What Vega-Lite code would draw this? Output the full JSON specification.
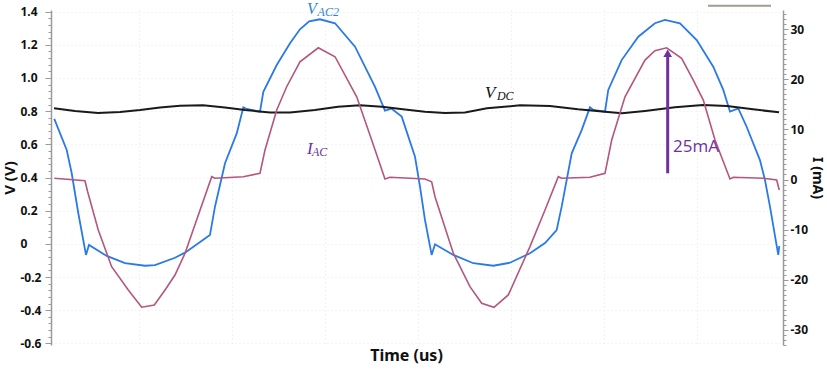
{
  "$schema": "https://vega.github.io/schema/vega-lite/v6.json",
  "autosize": "none",
  "padding": {"left": 51, "right": 44, "top": 10, "bottom": 27},
  "width": 732,
  "height": 335,
  "background": "white",
  "config": {
    "view": {"stroke": null},
    "axis": {"labelFont": "Noto Sans", "labelFontWeight": "bold", "titleFont": "Noto Sans", "titleFontWeight": "bold", "labelColor": "#111111", "titleColor": "#111111"}
  },
  "datasets": {
    "vac": [
      {"t":0.89,"v":0.753},{"t":2.23,"v":0.566},{"t":2.76,"v":0.427},{"t":3.47,"v":0.186},{"t":4.30,"v":-0.067},{"t":4.62,"v":-0.007},{"t":6.53,"v":-0.073},{"t":8.49,"v":-0.116},{"t":10.65,"v":-0.132},{"t":11.72,"v":-0.128},{"t":13.87,"v":-0.084},{"t":14.95,"v":-0.053},{"t":17.63,"v":0.053},{"t":18.17,"v":0.224},{"t":19.25,"v":0.486},{"t":20.51,"v":0.666},{"t":21.22,"v":0.823},{"t":21.58,"v":0.813},{"t":23.01,"v":0.797},{"t":23.37,"v":0.917},{"t":24.81,"v":1.078},{"t":26.24,"v":1.209},{"t":27.31,"v":1.294},{"t":28.3,"v":1.342},{"t":29.46,"v":1.354},{"t":31.08,"v":1.330},{"t":33.23,"v":1.189},{"t":35.38,"v":0.947},{"t":36.45,"v":0.803},{"t":37.17,"v":0.815},{"t":38.25,"v":0.767},{"t":39.68,"v":0.525},{"t":40.22,"v":0.344},{"t":40.75,"v":0.144},{"t":41.47,"v":-0.067},{"t":41.83,"v":-0.003},{"t":43.80,"v":-0.067},{"t":45.95,"v":-0.117},{"t":48.10,"v":-0.132},{"t":49.89,"v":-0.114},{"t":52.04,"v":-0.057},{"t":53.66,"v":0.005},{"t":54.91,"v":0.083},{"t":55.45,"v":0.224},{"t":56.53,"v":0.546},{"t":57.60,"v":0.686},{"t":58.49,"v":0.823},{"t":58.85,"v":0.807},{"t":60.11,"v":0.797},{"t":60.46,"v":0.928},{"t":61.90,"v":1.108},{"t":63.69,"v":1.249},{"t":65.48,"v":1.330},{"t":66.56,"v":1.350},{"t":68.17,"v":1.330},{"t":69.97,"v":1.229},{"t":71.75,"v":1.068},{"t":72.83,"v":0.928},{"t":73.55,"v":0.797},{"t":74.44,"v":0.817},{"t":75.34,"v":0.706},{"t":76.77,"v":0.505},{"t":77.31,"v":0.385},{"t":77.85,"v":0.224},{"t":78.74,"v":-0.067},{"t":78.85,"v":-0.013}
    ],
    "vdc": [
      {"t":0.86,"v":0.817},{"t":3.12,"v":0.801},{"t":5.59,"v":0.789},{"t":7.96,"v":0.795},{"t":10.11,"v":0.807},{"t":12.26,"v":0.822},{"t":14.41,"v":0.832},{"t":16.88,"v":0.835},{"t":19.25,"v":0.822},{"t":21.40,"v":0.807},{"t":24.09,"v":0.792},{"t":26.24,"v":0.792},{"t":28.92,"v":0.807},{"t":31.40,"v":0.827},{"t":33.76,"v":0.835},{"t":36.13,"v":0.827},{"t":38.60,"v":0.810},{"t":40.75,"v":0.797},{"t":42.90,"v":0.789},{"t":45.05,"v":0.792},{"t":47.42,"v":0.817},{"t":50.97,"v":0.835},{"t":54.19,"v":0.831},{"t":57.20,"v":0.811},{"t":60.11,"v":0.797},{"t":61.94,"v":0.787},{"t":64.41,"v":0.801},{"t":67.63,"v":0.823},{"t":70.65,"v":0.837},{"t":73.23,"v":0.831},{"t":76.02,"v":0.811},{"t":78.82,"v":0.793}
    ],
    "iac": [
      {"t":0.89,"i":0.24},{"t":4.19,"i":-0.24},{"t":4.48,"i":-2.43},{"t":5.62,"i":-10.07},{"t":7.06,"i":-17.38},{"t":8.85,"i":-22.03},{"t":10.29,"i":-25.47},{"t":11.65,"i":-25.01},{"t":12.80,"i":-22.03},{"t":13.87,"i":-19.04},{"t":14.95,"i":-14.71},{"t":17.82,"i":0.56},{"t":18.17,"i":0.24},{"t":21.22,"i":0.56},{"t":23.01,"i":1.24},{"t":23.55,"i":5.88},{"t":24.81,"i":13.85},{"t":25.88,"i":18.50},{"t":27.31,"i":23.48},{"t":29.28,"i":26.27},{"t":31.08,"i":24.48},{"t":33.41,"i":16.50},{"t":35.02,"i":7.87},{"t":36.45,"i":0.10},{"t":36.99,"i":0.44},{"t":40.75,"i":0.10},{"t":41.47,"i":-0.44},{"t":41.83,"i":-3.43},{"t":43.80,"i":-14.71},{"t":45.59,"i":-21.37},{"t":46.85,"i":-24.68},{"t":48.17,"i":-25.47},{"t":49.71,"i":-23.02},{"t":52.04,"i":-13.39},{"t":53.66,"i":-6.08},{"t":55.09,"i":0.56},{"t":55.45,"i":0.24},{"t":58.49,"i":0.44},{"t":60.11,"i":1.24},{"t":60.83,"i":7.87},{"t":62.26,"i":16.50},{"t":64.41,"i":23.82},{"t":65.48,"i":25.67},{"t":66.74,"i":26.27},{"t":68.35,"i":24.16},{"t":69.60,"i":19.83},{"t":70.68,"i":15.85},{"t":71.94,"i":7.87},{"t":73.55,"i":0.10},{"t":73.91,"i":0.44},{"t":77.13,"i":0.24},{"t":78.57,"i":-0.10},{"t":78.85,"i":-2.09}
    ]
  },
  "layer": [
    {
      "encoding": {
        "x": {"field": "t", "type": "quantitative", "scale": {"domain": [0.538, 79.25], "nice": false, "zero": false},
          "axis": {"title": "Time (us)", "titleFontSize": 16, "labels": false, "ticks": false, "domain": false, "grid": true, "values": [10,20,30,40,50,60,70], "gridDash": [1,3], "gridColor": "#e4e4e4", "titlePadding": 2, "titleX": 355}},
        "y": {"field": "v", "type": "quantitative", "scale": {"domain": [-0.61, 1.41], "nice": false, "zero": false},
          "axis": {"title": "V (V)", "titleFontSize": 15, "titlePadding": 3,
            "values": [-0.6,-0.56,-0.52,-0.48,-0.44,-0.4,-0.36,-0.32,-0.28,-0.24,-0.2,-0.16,-0.12,-0.08,-0.04,0,0.04,0.08,0.12,0.16,0.2,0.24,0.28,0.32,0.36,0.4,0.44,0.48,0.52,0.56,0.6,0.64,0.68,0.72,0.76,0.8,0.84,0.88,0.92,0.96,1,1.04,1.08,1.12,1.16,1.2,1.24,1.28,1.32,1.36,1.4],
            "labelExpr": "abs(datum.value*5 - round(datum.value*5)) < 0.01 ? (datum.value == 1 ? '1.0' : '' + datum.value) : ''",
            "tickSize": {"condition": {"test": "abs(datum.value*5 - round(datum.value*5)) < 0.01", "value": 6}, "value": 3},
            "gridOpacity": {"condition": {"test": "abs(datum.value*5 - round(datum.value*5)) < 0.01", "value": 1}, "value": 0},
            "grid": true, "gridDash": [1,3], "gridColor": "#e8e8e8",
            "labelAlign": "left", "labelPadding": 25, "labelFontSize": 12,
            "labelOverlap": false, "labelFlush": false, "labelBound": false,
            "domainColor": "#9a9a9a", "domainWidth": 1.5, "tickColor": "#9a9a9a"}}
      },
      "layer": [
        {"data": {"name": "vac"}, "mark": {"type": "line", "color": "#2a7ae6", "strokeWidth": 1.8}},
        {"data": {"name": "vdc"}, "mark": {"type": "line", "color": "#1a1a1a", "strokeWidth": 2}},
        {"data": {"values": [{"t": 71.18, "t2": 77.96, "v": 1.436}]}, "mark": {"type": "rule", "color": "#a39b91", "strokeWidth": 2}, "encoding": {"x2": {"field": "t2"}}},
        {"data": {"values": [{"t": 28.06, "v": 1.386, "label": "V"}]}, "mark": {"type": "text", "font": "Liberation Serif", "fontStyle": "italic", "fontSize": 16, "align": "left", "baseline": "alphabetic", "color": "#2e86d8"}, "encoding": {"text": {"field": "label"}}},
        {"data": {"values": [{"t": 29.2, "v": 1.372, "label": "AC2"}]}, "mark": {"type": "text", "font": "Liberation Serif", "fontStyle": "italic", "fontSize": 12, "align": "left", "baseline": "alphabetic", "color": "#2e86d8"}, "encoding": {"text": {"field": "label"}}},
        {"data": {"values": [{"t": 47.2, "v": 0.879, "label": "V"}]}, "mark": {"type": "text", "font": "Liberation Serif", "fontStyle": "italic", "fontSize": 17, "align": "left", "baseline": "alphabetic", "color": "#111111"}, "encoding": {"text": {"field": "label"}}},
        {"data": {"values": [{"t": 48.49, "v": 0.867, "label": "DC"}]}, "mark": {"type": "text", "font": "Liberation Serif", "fontStyle": "italic", "fontSize": 12, "align": "left", "baseline": "alphabetic", "color": "#111111"}, "encoding": {"text": {"field": "label"}}},
        {"data": {"values": [{"t": 28.06, "v": 0.542, "label": "I"}]}, "mark": {"type": "text", "font": "Liberation Serif", "fontStyle": "italic", "fontSize": 17, "align": "left", "baseline": "alphabetic", "color": "#7030a0"}, "encoding": {"text": {"field": "label"}}},
        {"data": {"values": [{"t": 28.6, "v": 0.530, "label": "AC"}]}, "mark": {"type": "text", "font": "Liberation Serif", "fontStyle": "italic", "fontSize": 12, "align": "left", "baseline": "alphabetic", "color": "#7030a0"}, "encoding": {"text": {"field": "label"}}}
      ]
    },
    {
      "encoding": {
        "x": {"field": "t", "type": "quantitative", "scale": {"domain": [0.538, 79.25], "nice": false, "zero": false},
          "axis": {"title": "Time (us)", "titleFontSize": 16, "labels": false, "ticks": false, "domain": false, "grid": true, "values": [10,20,30,40,50,60,70], "gridDash": [1,3], "gridColor": "#e4e4e4", "titlePadding": 2, "titleX": 355}},
        "y": {"field": "i", "type": "quantitative", "scale": {"domain": [-33, 33.8], "nice": false, "zero": false},
          "axis": {"orient": "right", "title": "I (mA)", "titleFontSize": 14, "titlePadding": 2,
            "values": [-33,-32,-31,-30,-29,-28,-27,-26,-25,-24,-23,-22,-21,-20,-19,-18,-17,-16,-15,-14,-13,-12,-11,-10,-9,-8,-7,-6,-5,-4,-3,-2,-1,0,1,2,3,4,5,6,7,8,9,10,11,12,13,14,15,16,17,18,19,20,21,22,23,24,25,26,27,28,29,30,31,32,33],
            "labelExpr": "datum.value % 10 == 0 ? '' + datum.value : ''",
            "tickSize": {"condition": {"test": "datum.value % 10 == 0", "value": 5}, "value": 3},
            "grid": false, "labelPadding": 2, "labelFontSize": 12,
            "labelOverlap": false, "labelFlush": false, "labelBound": false,
            "domainColor": "#9a9a9a", "domainWidth": 1.5, "tickColor": "#9a9a9a"}}
      },
      "layer": [
        {"data": {"name": "iac"}, "mark": {"type": "line", "color": "#b4567e", "strokeWidth": 1.6}},
        {"data": {"values": [{"t": 66.85, "i": 1.24, "i2": 24.6}]}, "mark": {"type": "rule", "color": "#7030a0", "strokeWidth": 3}, "encoding": {"y2": {"field": "i2"}}},
        {"data": {"values": [{"t": 66.85, "i": 25.2}]}, "mark": {"type": "point", "shape": "triangle-up", "filled": true, "size": 75, "color": "#7030a0", "opacity": 1}},
        {"data": {"values": [{"t": 67.42, "i": 5.48, "label": "25mA"}]}, "mark": {"type": "text", "font": "Open Sans", "fontSize": 17, "align": "left", "baseline": "alphabetic", "color": "#7030a0"}, "encoding": {"text": {"field": "label"}}}
      ]
    }
  ],
  "resolve": {"scale": {"y": "independent"}, "axis": {"y": "independent"}}
}
